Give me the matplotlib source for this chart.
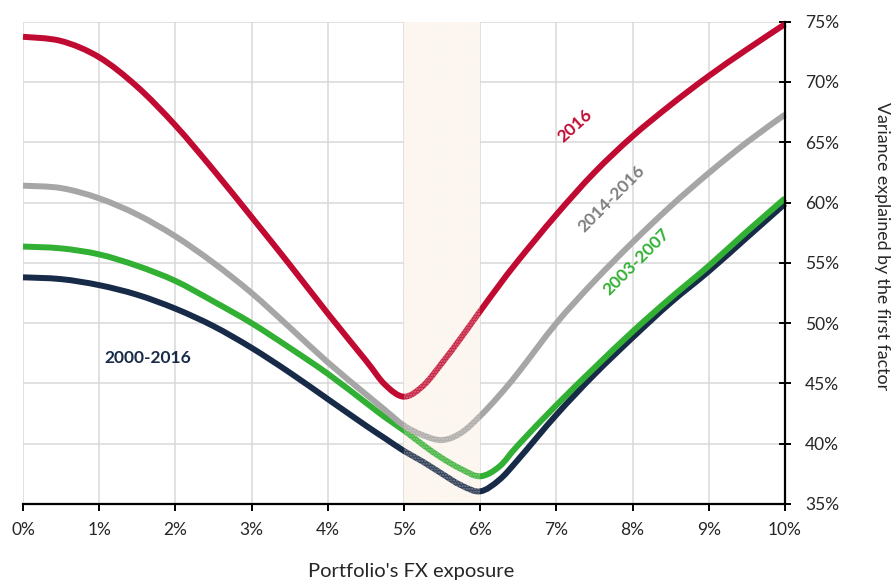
import matplotlib
matplotlib.use("Agg")
import matplotlib.pyplot as plt
from matplotlib.ticker import FuncFormatter, MultipleLocator
from matplotlib.path import Path
from matplotlib.patches import PathPatch

plt.rcParams['font.family'] = ['Lato', 'DejaVu Sans']

# FX exposure (%)
x = [0, 0.5, 1, 1.5, 2, 2.5, 3, 3.5, 4, 4.5, 4.75, 5, 5.25, 5.5, 5.75, 6,
     6.25, 6.5, 7, 7.5, 8, 8.5, 9, 9.5, 10]

# Variance explained by the first factor (%)
s2016 = [73.75, 73.4, 72.05, 69.6, 66.4, 62.7, 58.8, 54.85, 50.8, 46.9, 44.9, 43.9,
         44.8, 46.7, 48.8, 51.0, 53.15, 55.2, 59.0, 62.5, 65.5, 68.1, 70.5, 72.7, 74.8]
s2014_2016 = [61.4, 61.2, 60.35, 59.0, 57.2, 55.0, 52.5, 49.65, 46.75, 44.1, 42.8, 41.5,
              40.7, 40.3, 40.9, 42.3, 44.0, 45.9, 50.0, 53.5, 56.7, 59.7, 62.45, 65.0, 67.3]
s2003_2007 = [56.35, 56.2, 55.7, 54.75, 53.5, 51.8, 50.0, 47.95, 45.8, 43.4, 42.2, 41.1,
              39.9, 38.8, 37.9, 37.3, 38.1, 39.9, 43.2, 46.3, 49.3, 52.1, 54.75, 57.6, 60.35]
s2000_2016 = [53.8, 53.65, 53.15, 52.35, 51.2, 49.75, 47.95, 45.9, 43.7, 41.5, 40.45, 39.4,
              38.5, 37.5, 36.55, 36.05, 37.0, 38.7, 42.4, 45.75, 48.8, 51.7, 54.3, 57.1, 59.9]

band = (5, 6)

RED = '#C00A32'
GRAY = '#A6A6A6'
GREEN = '#32B034'
NAVY = '#172B49'


def smooth_path(xs, ys):
    """Bezier path passing through every data point (Excel-like smoothed line)."""
    pts = list(zip(xs, ys))
    n = len(pts)
    verts = [pts[0]]
    codes = [Path.MOVETO]
    for i in range(n - 1):
        p0 = pts[i - 1] if i > 0 else pts[i]
        p1 = pts[i]
        p2 = pts[i + 1]
        p3 = pts[i + 2] if i + 2 < n else pts[i + 1]
        c1 = (p1[0] + (p2[0] - p0[0]) / 6, p1[1] + (p2[1] - p0[1]) / 6)
        c2 = (p2[0] - (p3[0] - p1[0]) / 6, p2[1] - (p3[1] - p1[1]) / 6)
        verts += [c1, c2, p2]
        codes += [Path.CURVE4] * 3
    return Path(verts, codes)


fig = plt.figure(figsize=(8.96, 5.82), dpi=100)
ax = fig.add_axes([23/896, 1-504/582, 762/896, (504-21.7)/582])

ax.set_xlim(0, 10)
ax.set_ylim(35, 75)

ax.axvspan(band[0], band[1], facecolor='#FDF9F4', edgecolor='none', zorder=1)

lw = 4.3
for ys, col, z in [(s2000_2016, NAVY, 5), (s2003_2007, GREEN, 6),
                   (s2014_2016, GRAY, 7), (s2016, RED, 8)]:
    patch = PathPatch(smooth_path(x, ys), facecolor='none', edgecolor=col, lw=lw,
                      joinstyle='round', capstyle='butt', zorder=z,
                      transform=ax.transData, clip_on=False)
    ax.add_patch(patch)

# textured overlay of the band
ax.axvspan(band[0], band[1], facecolor=(1, 0.97, 0.94, 0.12),
           edgecolor=(0.99, 0.93, 0.86, 0.35), hatch='......', lw=0, zorder=9)

ax.xaxis.set_major_locator(MultipleLocator(1))
ax.yaxis.set_major_locator(MultipleLocator(5))
ax.xaxis.set_major_formatter(FuncFormatter(lambda v, p: f"{v:.0f}%"))
ax.yaxis.set_major_formatter(FuncFormatter(lambda v, p: f"{v:.0f}%"))

ax.grid(True, color='#D9D9D9', lw=1.1, zorder=0)
ax.set_axisbelow(True)

for s in ['top', 'left']:
    ax.spines[s].set_visible(False)
ax.spines['bottom'].set_linewidth(1.6)
ax.spines['right'].set_linewidth(1.6)
ax.spines['bottom'].set_zorder(10)
ax.spines['right'].set_zorder(10)

ax.yaxis.tick_right()
ax.tick_params(axis='x', direction='out', length=5, width=1.4, pad=8,
               labelsize=12.5, labelcolor='#262626')
ax.tick_params(axis='y', direction='inout', length=9, width=1.4, pad=10,
               labelsize=12.5, labelcolor='#262626')

ax.set_xlabel("Portfolio's FX exposure", fontsize=14.5, color='#262626', va='center')
ax.xaxis.set_label_coords(0.509, -0.139)
ax.set_ylabel("Variance explained by the first factor", fontsize=12.8,
              color='#262626', rotation=270, va='center')
ax.yaxis.set_label_position('right')
ax.yaxis.set_label_coords(1.138, 0.535)

ax.text(7.24, 66.4, "2016", color=RED, fontsize=12.5, fontweight='bold',
        rotation=42, ha='center', va='center', zorder=12)
ax.text(7.73, 60.3, "2014-2016", color='#7F7F7F', fontsize=12.5, fontweight='bold',
        rotation=45, ha='center', va='center', zorder=12)
ax.text(8.05, 55.05, "2003-2007", color=GREEN, fontsize=12.5, fontweight='bold',
        rotation=45, ha='center', va='center', zorder=12)
ax.text(1.64, 47.07, "2000-2016", color=NAVY, fontsize=12.5, fontweight='bold',
        ha='center', va='center', zorder=12)

fig.savefig("out.png", dpi=100)
